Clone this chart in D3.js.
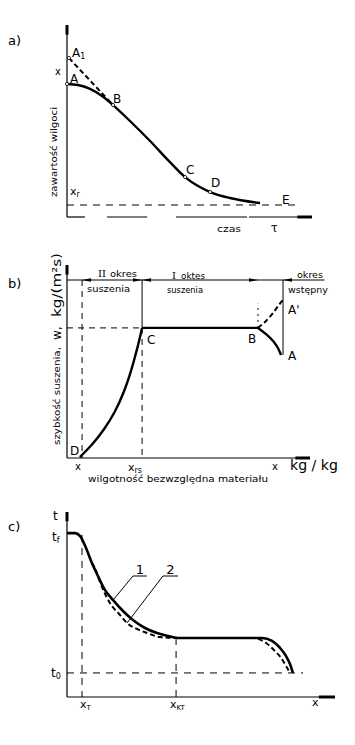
<!DOCTYPE html>
<html><head><meta charset="utf-8">
<script src="https://cdn.jsdelivr.net/npm/d3@7"></script>
<style>
body{margin:0;background:#fff}
svg{display:block}
text{font-family:"DejaVu Sans",sans-serif;fill:#000}
</style>
</head><body>
<svg id="chart" width="355" height="745"></svg>
<script>
// ---------------- DATA ----------------
// Panel a: moisture content vs time (percent of axis)
const moistureCurve = [[0,69.3],[4.5,68.75],[9.4,66.7],[14.3,63.0],[18.8,58.3],[25.7,50.0],[33.9,39.6],[42.0,28.6],[48.2,20.8],[53.5,16.1],[58.4,13.0],[66.5,9.9],[78.8,7.3]];
const moistureDashed = [[0.8,82.8],[18.8,58.3]];
const moisturePoints = [{n:"A",p:[0,69.3]},{n:"A1",p:[0.8,82.8]},{n:"B",p:[18.8,58.3]},{n:"C",p:[48.2,20.8]},{n:"D",p:[58.4,13.0]}];
const equilibriumX = 6.25;            // x_r level
const equilibriumEnd = 94.3;
const timeAxisSegments = [[0,7.3],[16.3,32.7],[44.5,73.5],[74.3,100]];

// Panel b: drying rate vs moisture
const rateFalling = [[30.9,67.4],[28.8,56.0],[26.3,44.6],[23.5,34.2],[19.8,23.8],[15.2,14.5],[10.3,6.7],[5.3,0.5]];
const rateConstant = [[30.9,67.4],[78.6,67.4]];
const rateWarmA = [[78.6,67.4],[81.9,64.2],[84.8,60.6],[86.8,57.0],[88.1,53.4]];
const rateWarmA2 = [[78.6,67.4],[81.9,71.0],[84.8,75.1],[87.2,79.3],[88.9,81.9]];
const periodLine = 92.2;               // level of period dimension line
const periodBounds = [6.2,30.9,78.6,88.9];
const periodEnd = 106;
const xCritical = 30.9, xFinal = 6.2, rateLevel = 67.4;

// Panel c: temperature vs moisture
const temp1 = [[0,88.6],[3.0,88.6],[4.9,87.0],[7.1,80.5],[9.3,72.4],[11.2,66.5],[14.2,57.8],[17.2,52.4],[20.9,46.5],[24.6,41.6],[29.1,37.3],[33.6,34.6],[37.7,33.0],[42.2,31.9],[72.8,31.9],[76.5,30.3],[79.5,26.5],[81.7,22.2],[83.2,17.8],[84.3,13.0]];
const temp2a = [[9.3,72.4],[10.4,69.7],[12.3,62.2],[16.0,50.8],[19.8,44.3],[22.4,40.0],[26.1,36.8],[29.9,34.6],[34.7,32.4],[40.3,31.9]];
const temp2b = [[71.3,31.4],[74.3,29.2],[77.2,25.4],[79.9,21.1],[81.7,16.8],[83.2,13.0]];
const tF = 88.6, t0 = 13.0, t0End = 88.1;
const xT = 5.6, xKT = 40.7, wetBulb = 31.9;
const leaders = [{n:"1",from:[24.6,65.4],to:[17.2,52.4],len:5.2},{n:"2",from:[35.8,65.4],to:[22.4,40.0],len:5.6}];

// ---------------- DRAWING ----------------
const svg = d3.select("#chart");
const g = svg.append("g");

const xA = d3.scaleLinear().domain([0,100]).range([67,312]);
const yA = d3.scaleLinear().domain([0,100]).range([217,25]);
const xB = d3.scaleLinear().domain([0,100]).range([67,310]);
const yB = d3.scaleLinear().domain([0,100]).range([458,265]);
const xC = d3.scaleLinear().domain([0,100]).range([67,335]);
const yC = d3.scaleLinear().domain([0,100]).range([697,512]);

function path(x,y,data,opt){
  const line = d3.line().x(d=>x(d[0])).y(d=>y(d[1])).curve(opt.curve||d3.curveLinear);
  return g.append("path").attr("d",line(data)).attr("fill","none")
    .attr("stroke","#000").attr("stroke-width",opt.w||1)
    .attr("stroke-dasharray",opt.dash||null).attr("stroke-linecap",opt.cap||"butt");
}
function txt(x,y,s,size,opt){
  opt=opt||{};
  const t=g.append("text").attr("x",x).attr("y",y).attr("font-size",size).text(s);
  if(opt.anchor) t.attr("text-anchor",opt.anchor);
  if(opt.len) t.attr("textLength",opt.len).attr("lengthAdjust","spacingAndGlyphs");
  if(opt.family) t.style("font-family",opt.family);
  return t;
}
function sub(x,y,base,s,size,ssize){
  const t=g.append("text").attr("x",x).attr("y",y).attr("font-size",size);
  t.append("tspan").text(base);
  t.append("tspan").attr("font-size",ssize).attr("dy",2).text(s);
  return t;
}
function axes(x,y,xSegs){
  path(x,y,[[0,0],[0,100]],{w:1.2});
  path(x,y,[[0,95],[0,100]],{w:3});
  (xSegs||[[0,100]]).forEach(s=>path(x,y,[[s[0],0],[s[1],0]],{w:1.2}));
  path(x,y,[[94,0],[100,0]],{w:3});
}

// ---- panel a
axes(xA,yA,timeAxisSegments);
path(xA,yA,[[0,equilibriumX],[equilibriumEnd,equilibriumX]],{w:1,dash:"7,6"});
path(xA,yA,moistureDashed,{w:2,dash:"5,3"});
path(xA,yA,moistureCurve,{w:2.4,curve:d3.curveMonotoneX});
moisturePoints.forEach(d=>g.append("circle").attr("cx",xA(d.p[0])).attr("cy",yA(d.p[1])).attr("r",1.6)
  .attr("fill","#fff").attr("stroke","#000").attr("stroke-width",0.8));
txt(8,45,"a)",13);
sub(72,57,"A","1",12,8);
txt(55,75,"x",10);
txt(70,83,"A",12);
txt(113,103,"B",12);
txt(186,174,"C",12);
txt(211,187,"D",12);
txt(282,204,"E",12);
sub(70,195,"x","r",11,8);
txt(217,232,"czas",9,{len:24});
txt(271,232,"τ",12,{family:"DejaVu Serif"});
g.append("text").attr("transform","translate(57,152) rotate(-90)").attr("text-anchor","middle")
  .attr("font-size",9).attr("textLength",90).attr("lengthAdjust","spacingAndGlyphs").text("zawartość wilgoci");

// ---- panel b
axes(xB,yB);
path(xB,yB,[[0,periodLine],[periodEnd,periodLine]],{w:1.1});
path(xB,yB,[[xFinal,periodLine],[xFinal,0]],{w:1,dash:"6,5"});
path(xB,yB,[[xCritical,periodLine],[xCritical,rateLevel]],{w:1});
path(xB,yB,[[xCritical,rateLevel],[xCritical,0]],{w:1,dash:"6,5"});
path(xB,yB,[[0,rateLevel],[xCritical,rateLevel]],{w:1,dash:"6,5"});
path(xB,yB,[[periodBounds[3],periodLine],[periodBounds[3],rateWarmA[rateWarmA.length-1][1]]],{w:1});
path(xB,yB,[[periodBounds[2],rateLevel],[periodBounds[2],80]],{w:1,dash:"2,4"});
[[periodBounds[0],1],[periodBounds[1],-1],[periodBounds[1],1],[periodBounds[2],-1],[periodBounds[3],1]].forEach(([b,dir])=>{
  const px=xB(b), py=yB(periodLine);
  g.append("path").attr("d",`M${px},${py}L${px+dir*9},${py-1.8}L${px+dir*9},${py+1.8}Z`).attr("fill","#000");
});
path(xB,yB,rateConstant,{w:2.4});
path(xB,yB,rateFalling,{w:2.4,curve:d3.curveBasis});
path(xB,yB,rateWarmA,{w:2.4,curve:d3.curveMonotoneX});
path(xB,yB,rateWarmA2,{w:2,dash:"5,3",curve:d3.curveMonotoneX});
txt(8,288,"b)",13);
txt(98,277,"II",10,{family:"DejaVu Serif"});
txt(110,277,"okres",9,{len:27});
txt(87,292,"suszenia",9,{len:43});
txt(172,279,"I",10,{family:"DejaVu Serif"});
txt(181,279,"oktes",9,{len:24});
txt(167,293,"suszenia",9,{len:36});
txt(310,278,"okres",9,{anchor:"middle",len:26});
txt(308,293,"wstępny",9,{anchor:"middle",len:40});
txt(147,344,"C",12);
txt(248,343,"B",12);
txt(288,360,"A",12);
txt(288,314,"A'",12);
txt(70,455,"D",12);
txt(75,470,"x",10);
sub(128,471,"x","rs",11,8);
txt(88,482,"wilgotność bezwzględna materiału",9,{len:180});
txt(272,470,"x",10);
txt(290,470,"kg / kg",14,{len:48});
g.append("text").attr("transform","translate(60,445) rotate(-90)")
  .attr("font-size",9).attr("textLength",98).attr("lengthAdjust","spacingAndGlyphs").text("szybkość suszenia,");
g.append("text").attr("transform","translate(61,340) rotate(-90)")
  .attr("font-size",12).text("w,");
g.append("text").attr("transform","translate(61,317) rotate(-90)")
  .attr("font-size",13).attr("textLength",64).attr("lengthAdjust","spacingAndGlyphs").text("kg/(m²s)");

// ---- panel c
axes(xC,yC);
path(xC,yC,[[0,t0],[t0End,t0]],{w:1,dash:"7,6"});
path(xC,yC,[[xT,tF-1],[xT,0]],{w:1,dash:"7,6"});
path(xC,yC,[[xKT,wetBulb],[xKT,0]],{w:1,dash:"7,6"});
path(xC,yC,temp2a,{w:2,dash:"5,3",curve:d3.curveMonotoneX});
path(xC,yC,temp2b,{w:2,dash:"5,3",curve:d3.curveMonotoneX});
path(xC,yC,temp1,{w:2.6,curve:d3.curveMonotoneX});
leaders.forEach(l=>{
  path(xC,yC,[[l.from[0]+l.len,l.from[1]],l.from,l.to],{w:1});
  txt(xC(l.from[0]+l.len/2),yC(l.from[1])-2,l.n,13,{anchor:"middle"});
});
txt(8,531,"c)",13);
txt(53,520,"t",12);
sub(52,541,"t","f",12,8);
sub(51,677,"t","0",12,8);
sub(80,708,"x","T",11,7);
sub(170,708,"x","KT",11,7);
txt(312,706,"x",11);
</script>
</body></html>
